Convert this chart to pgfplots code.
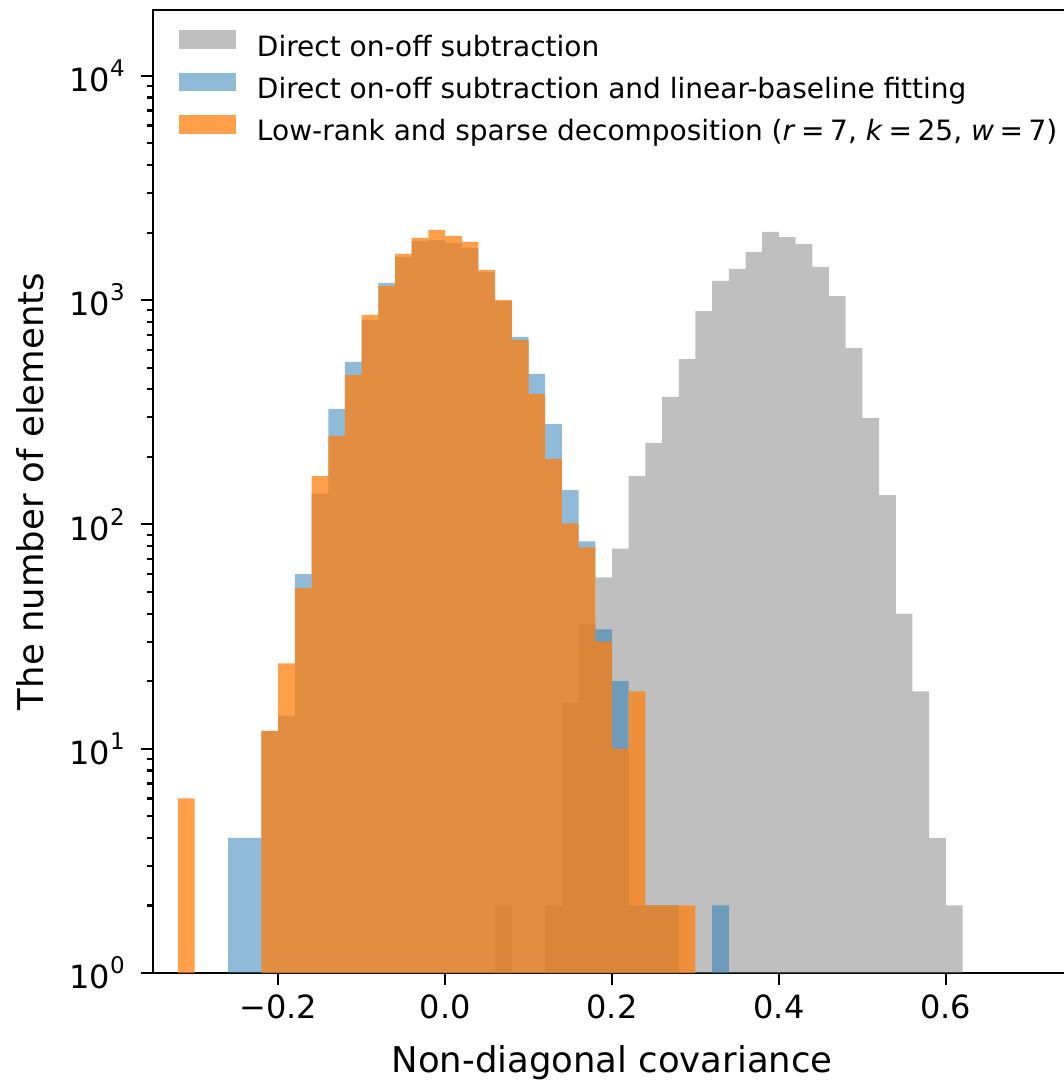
\documentclass[border=0pt]{standalone}
\usepackage{fontspec}
\setmainfont{DejaVu Sans}
\usepackage{pgfplots}
\pgfplotsset{compat=1.18}
\definecolor{cgray}{RGB}{128,128,128}
\definecolor{cblue}{HTML}{1F77B4}
\definecolor{corange}{HTML}{FF7F0E}
\newcommand{\pw}[1]{10\raisebox{5.6pt}{\fontsize{8.6}{10}\selectfont #1}}

% histogram counts, bin width 0.02, x = bin centre
\pgfplotstableread{
x n
0.07 2
0.13 2
0.15 16
0.17 36
0.19 58
0.21 78
0.23 164
0.25 231
0.27 370
0.29 546
0.31 894
0.33 1217
0.35 1376
0.37 1637
0.39 2013
0.41 1911
0.43 1778
0.45 1406
0.47 1042
0.49 611
0.51 298
0.53 135
0.55 40
0.57 18
0.59 4
0.61 2
}\direct
\pgfplotstableread{
x n
-0.25 4
-0.23 4
-0.21 12
-0.19 14
-0.17 60
-0.15 137
-0.13 327
-0.11 530
-0.09 815
-0.07 1192
-0.05 1556
-0.03 1833
-0.01 1853
0.01 1798
0.03 1708
0.05 1334
0.07 990
0.09 685
0.11 469
0.13 280
0.15 142
0.17 84
0.19 34
0.21 20
0.23 2
0.25 2
0.27 2
0.33 2
}\baseline
\pgfplotstableread{
x n
-0.31 6
-0.21 12
-0.19 24
-0.17 52
-0.15 164
-0.13 248
-0.11 464
-0.09 859
-0.07 1156
-0.05 1606
-0.03 1893
-0.01 2055
0.01 1932
0.03 1816
0.05 1362
0.07 1000
0.09 663
0.11 381
0.13 196
0.15 101
0.17 79
0.19 30
0.21 10
0.23 18
0.25 2
0.27 2
0.29 2
}\lowrank

\begin{document}
\begin{tikzpicture}
\begin{axis}[
  at={(0,0)}, anchor=south west,
  scale only axis, width=344.25pt, height=361.125pt,
  xmin=-0.35, xmax=0.75,
  ymode=log, ymin=1, ymax=19650,
  axis line style={line width=0.8pt},
  tick style={black, line width=0.8pt},
  major tick length=4.5pt, minor tick length=2.4pt,
  tick align=outside, tick pos=left,
  xtick={-0.2,0,0.2,0.4,0.6},
  xticklabels={−0.2,0.0,0.2,0.4,0.6},
  minor x tick num=0,
  ytick={1,10,100,1000,10000},
  yticklabels={\pw{0},\pw{1},\pw{2},\pw{3},\pw{4}},
  minor ytick={2,3,4,5,6,7,8,9,20,30,40,50,60,70,80,90,200,300,400,500,600,700,800,900,2000,3000,4000,5000,6000,7000,8000,9000},
  ticklabel style={font=\fontsize{12}{14}\selectfont},
  yticklabel style={xshift=-2.6pt},
  label style={font=\fontsize{13.3}{15}\selectfont},
  xlabel={Non-diagonal covariance},
  ylabel={The number of elements},
  xlabel style={at={(axis description cs:0.5,-0.1038)}, anchor=base},
  ylabel style={at={(axis description cs:-0.1198,0.5)}, anchor=base},
  legend style={at={(axis description cs:0,1)}, anchor=north west,
    xshift=9.4pt, yshift=-7.4pt, draw=none, fill=none, inner sep=0pt,
    font=\fontsize{10.5}{12}\selectfont, row sep=3.56pt, column sep=8pt,
    nodes={inner sep=0pt, text height=7.5pt, text depth=2.5pt},
    cells={anchor=west}},
  legend image code/.code={\fill (0pt,0.2pt) rectangle (21.4pt,7.3pt);},
  legend cell align=left,
]
\addplot[ybar, bar width=0.02, bar shift=0pt, draw=none, fill=cgray, fill opacity=0.5] table[x=x, y=n] {\direct};
\addlegendentry{Direct on-off subtraction}
\addplot[ybar, bar width=0.02, bar shift=0pt, draw=none, fill=cblue, fill opacity=0.5] table[x=x, y=n] {\baseline};
\addlegendentry{Direct on-off subtraction and linear-baseline fitting}
\addplot[ybar, bar width=0.02, bar shift=0pt, draw=none, fill=corange, fill opacity=0.75] table[x=x, y=n] {\lowrank};
\addlegendentry{Low-rank and sparse decomposition (\textit{r}\hspace{0.2em}=\hspace{0.2em}7, \textit{k}\hspace{0.2em}=\hspace{0.2em}25, \textit{w}\hspace{0.2em}=\hspace{0.2em}7)}
\end{axis}
\pgfresetboundingbox
\path[use as bounding box] (-57.375pt,-42.375pt) rectangle (341.25pt,364.875pt);
\end{tikzpicture}
\end{document}
